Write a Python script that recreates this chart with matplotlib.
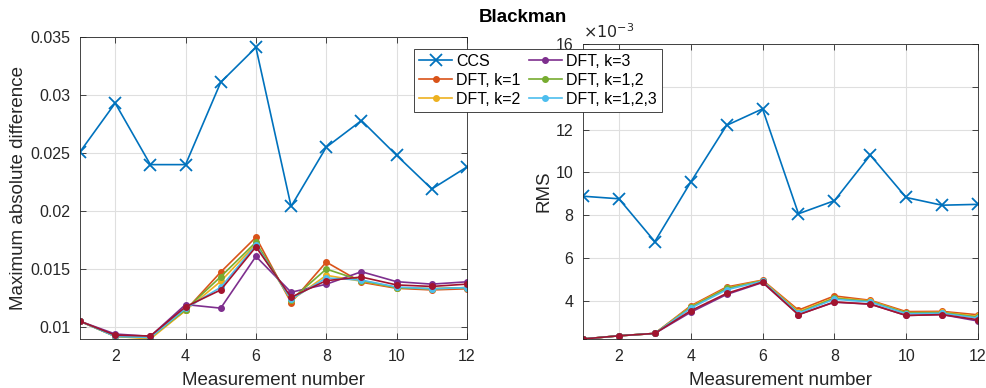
import matplotlib
matplotlib.use("Agg")
import matplotlib.pyplot as plt
from matplotlib.ticker import FuncFormatter

plt.rcParams['font.family'] = ['Liberation Sans', 'DejaVu Sans']

x = list(range(1, 13))

# Left panel: maximum absolute difference
mad_ccs = [0.0251, 0.0293, 0.0240, 0.0240, 0.0311, 0.0341, 0.0204, 0.0255, 0.0278, 0.0248, 0.0219, 0.0238]
mad_k1 = [0.0105, 0.0092, 0.0091, 0.01143, 0.01474, 0.01774, 0.01211, 0.0156, 0.01386, 0.01334, 0.0132, 0.0133]
mad_k2 = [0.0105, 0.0092, 0.00897, 0.01143, 0.01394, 0.01714, 0.0123, 0.01446, 0.01395, 0.0134, 0.0133, 0.0134]
mad_k3 = [0.0105, 0.0094, 0.0092, 0.01194, 0.01163, 0.01609, 0.0130, 0.01369, 0.01477, 0.01391, 0.0137, 0.0139]
mad_k12 = [0.0105, 0.0092, 0.0091, 0.0115, 0.01434, 0.01731, 0.01234, 0.0150, 0.0140, 0.0134, 0.0133, 0.0134]
mad_k123 = [0.0105, 0.0092, 0.0091, 0.0116, 0.01343, 0.01706, 0.0124, 0.01423, 0.01405, 0.01345, 0.0133, 0.0134]
mad_k7 = [0.0105, 0.0093, 0.00923, 0.01174, 0.0132, 0.01691, 0.01257, 0.0140, 0.01431, 0.01363, 0.0135, 0.0137]

# Right panel: RMS (x 1e-3)
rms_ccs = [8.89, 8.77, 6.77, 9.55, 12.2, 12.97, 8.07, 8.68, 10.81, 8.83, 8.47, 8.51]
rms_k1 = [2.22, 2.37, 2.48, 3.77, 4.65, 4.97, 3.57, 4.23, 4.03, 3.50, 3.51, 3.35]
rms_k2 = [2.22, 2.37, 2.48, 3.73, 4.60, 4.95, 3.50, 4.15, 4.00, 3.45, 3.47, 3.28]
rms_k3 = [2.22, 2.37, 2.48, 3.47, 4.30, 4.86, 3.36, 3.94, 3.85, 3.32, 3.36, 3.06]
rms_k12 = [2.22, 2.37, 2.48, 3.70, 4.58, 4.93, 3.45, 4.12, 3.97, 3.43, 3.45, 3.24]
rms_k123 = [2.22, 2.37, 2.48, 3.66, 4.52, 4.92, 3.42, 4.08, 3.95, 3.40, 3.42, 3.20]
rms_k7 = [2.22, 2.37, 2.48, 3.54, 4.35, 4.88, 3.35, 3.95, 3.85, 3.32, 3.36, 3.12]

rms_ticks = [4, 6, 8, 10, 12, 14, 16]
rms_ticklabels = ['4', '6', '8', '10', '12', '', '16']  # 14 is hidden behind the legend

labels = ['CCS', 'DFT, k=1', 'DFT, k=2', 'DFT, k=3', 'DFT, k=1,2', 'DFT, k=1,2,3']
colors = ['#0072BD', '#D95319', '#EDB120', '#7E2F8E', '#77AC30', '#4DBEEE', '#A2142F']

W, H = 987, 388
fig = plt.figure(figsize=(W / 100, H / 100), dpi=100)

def ax_at(l, t, r, b):
    return fig.add_axes([l / W, 1 - b / H, (r - l) / W, (b - t) / H])

ax1 = ax_at(80, 37, 467, 339)
ax2 = ax_at(583, 44, 978, 339)

def draw(ax, ccs, series):
    h = []
    h.append(ax.plot(x, ccs, color=colors[0], lw=1.2, marker='x', ms=8, mew=1.3, label=labels[0])[0])
    for i, s in enumerate(series):
        lab = labels[i + 1] if i + 1 < len(labels) else None
        h.append(ax.plot(x, s, color=colors[i + 1], lw=1.2, marker='o', ms=4, label=lab)[0])
    return h

handles = draw(ax1, mad_ccs, [mad_k1, mad_k2, mad_k3, mad_k12, mad_k123, mad_k7])
draw(ax2, rms_ccs, [rms_k1, rms_k2, rms_k3, rms_k12, rms_k123, rms_k7])

txtc = '#262626'
for ax in (ax1, ax2):
    ax.set_xlim(1, 12)
    ax.set_xticks([2, 4, 6, 8, 10, 12])
    ax.grid(True, color='#DFDFDF', lw=0.8)
    ax.set_axisbelow(True)
    for sp in ax.spines.values():
        sp.set_color(txtc)
        sp.set_linewidth(0.6)
    ax.tick_params(direction='in', top=True, right=True, length=4, width=0.6,
                   labelsize=11.5, colors=txtc, pad=7)
    ax.set_xlabel('Measurement number', fontsize=13.5, color=txtc, labelpad=6)

ax1.set_ylim(0.00897, 0.035)
ax1.set_yticks([0.01, 0.015, 0.02, 0.025, 0.03, 0.035])
ax1.yaxis.set_major_formatter(FuncFormatter(lambda v, p: ('%g' % round(v, 4))))
ax1.set_ylabel('Maximum absolute difference', fontsize=13.5, color=txtc, labelpad=2)

ax2.set_ylim(2.22, 16)
ax2.set_yticks(rms_ticks)
ax2.set_yticklabels(rms_ticklabels)
ax2.set_ylabel('RMS', fontsize=13.5, color=txtc, labelpad=2)
ax2.text(0.0, 1.01, r'$\times10^{-3}$', transform=ax2.transAxes, fontsize=11.5,
         color=txtc, ha='left', va='bottom')

fig.text(523 / W, 1 - 18 / H, 'Blackman', ha='center', va='center',
         fontsize=13.5, fontweight='bold', color='black')

leg = fig.legend(handles[:6], labels, loc='upper left', ncol=2,
                 bbox_to_anchor=(414 / W, 1 - 49 / H), borderaxespad=0,
                 fontsize=11.5, fancybox=False, framealpha=1, edgecolor=txtc,
                 handlelength=2.1, handletextpad=0.25, columnspacing=0.5,
                 labelspacing=0.25, borderpad=0.3)
leg.get_frame().set_linewidth(0.6)
leg.set_zorder(10)

fig.savefig('out.png', dpi=100)
